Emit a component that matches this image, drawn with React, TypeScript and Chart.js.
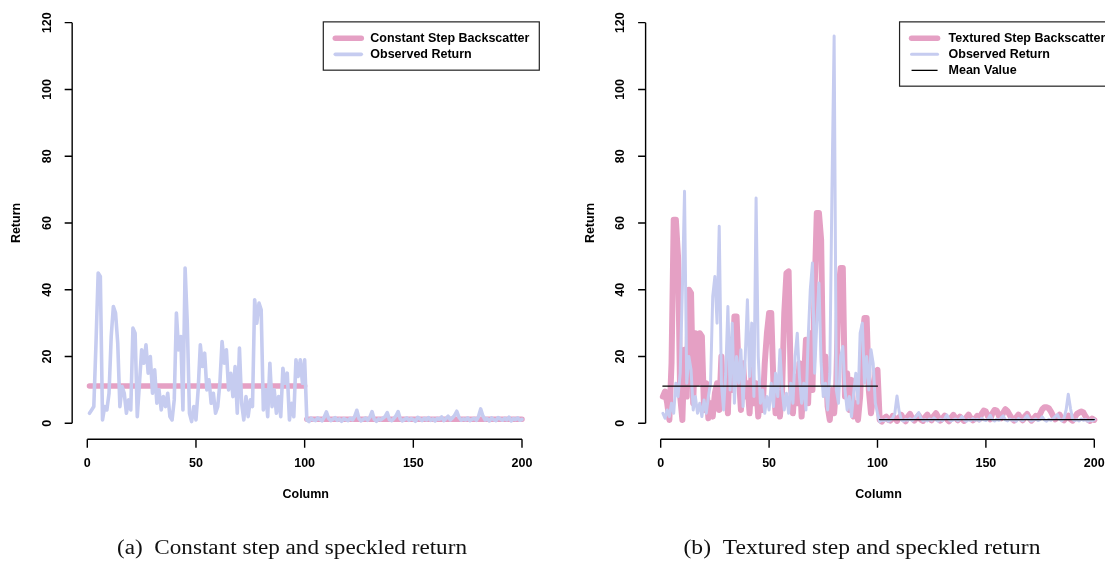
import { useEffect, useRef } from 'react';
import { Chart, registerables } from 'chart.js';

Chart.register(...registerables);

// ---------------- data ----------------
const xTicks = [0, 50, 100, 150, 200];
const yTicks = [0, 20, 40, 60, 80, 100, 120];

// left panel: constant step (two levels) and observed speckled return (columns 1..200)
const constStepStart = [1, 101];
const constStepEnd = [100, 200];
const constStepLevel = [11.15, 1.2];

const leftObserved = [
  3, 4, 5, 24, 45, 44, 1, 5, 4, 9,
  26, 35, 33, 24, 5, 11, 9, 3, 7, 4,
  28.5, 27, 2, 12, 22, 18, 23.5, 15, 20, 9,
  16, 6, 10, 4, 8, 5, 9, 2, 1, 7,
  33, 22, 26, 4, 46.5, 30, 3, 0.5, 5, 1,
  10, 23.5, 17, 21, 10, 13, 6, 9, 3, 5,
  12, 24.5, 18, 22, 10, 15, 8, 17, 3, 22.5,
  6, 1, 8, 2, 7, 5, 37, 30, 36, 34,
  4, 10, 2, 18, 5, 10, 3, 8, 2, 16.5,
  12, 15, 1, 6, 2, 19, 14, 19, 12, 19,
  1, 0.5, 1.5, 1, 0.8, 1.6, 1.2, 0.7, 1.8, 3.4,
  1.5, 0.8, 1.2, 1.7, 0.9, 1.3, 0.6, 1.4, 1.1, 0.8,
  1.5, 1.0, 2.0, 3.9, 1.4, 0.7, 1.2, 1.6, 0.9, 1.8,
  3.5, 1.2, 0.6, 1.3, 1.0, 1.5, 2.0, 3.2, 1.1, 0.8,
  1.4, 2.2, 3.5, 1.3, 0.7, 1.2, 1.6, 0.9, 1.4, 1.1,
  0.6, 1.8, 1.3, 0.8, 1.5, 1.0, 1.7, 0.9, 1.3, 0.7,
  1.5, 1.2, 1.9, 0.8, 1.4, 2.1, 1.0, 1.6, 2.4, 3.6,
  1.8, 0.9, 1.3, 1.0, 1.6, 0.8, 1.2, 1.5, 0.9, 2.0,
  4.3, 2.2, 1.0, 1.4, 0.7, 1.6, 1.1, 0.8, 1.7, 1.3,
  0.9, 1.5, 1.0, 1.8, 0.7, 1.4, 1.1, 1.6, 0.9, 1.2,
];

// right panel: textured step, observed return, mean value
const texturedStep = [
  8, 9.5, 6, 1, 18, 61, 61, 50, 8, 1,
  22, 8, 40, 39, 6, 27, 12, 27, 26, 4,
  12, 1.5, 6, 2, 9, 12, 4, 20, 6, 14,
  3, 25, 10, 32, 32, 15, 4, 18, 8, 12,
  3, 16, 6, 12, 2, 10, 4, 18, 27, 33,
  33, 12, 3, 8, 2, 10, 33, 45, 45.5, 12,
  3, 14, 6, 18, 2, 12, 25, 6, 27, 10,
  40, 63, 63, 55, 12, 20, 5, 1, 10, 3,
  12, 40, 46.5, 46.5, 8, 15, 4, 13, 2, 6,
  1, 8, 25, 31.5, 31.5, 10, 3, 8, 15, 16,
  1, 0.5, 1.5, 2, 1, 0.8, 2.2, 1.5, 0.7, 1.8,
  2.5, 1.2, 0.6, 2, 2.8, 1.5, 0.8, 1.6, 2.4, 1.1,
  0.7, 1.9, 2.6, 1.4, 0.9, 2.2, 3, 1.8, 0.8, 1.5,
  2.3, 1.2, 0.6, 1.7, 2.5, 1.6, 0.9, 2.0, 1.3, 0.7,
  1.8, 2.6, 1.5, 0.9, 1.4, 2.2, 1.2, 2.8, 3.8, 3.5,
  2, 1.2, 3, 4, 3.8, 2.2, 1.5, 3.2, 4.2, 3.6,
  2.5, 1.4, 0.8, 1.8, 2.6, 1.5, 0.9, 2.1, 2.8, 1.6,
  0.8, 1.4, 2.2, 1.5, 2.8, 4.2, 4.8, 4.8, 4.5, 3.5,
  2.2, 1.2, 1.8, 2.6, 1.4, 0.9, 1.7, 2.3, 1.2, 0.8,
  1.8, 2.8, 3.2, 3.5, 3.2, 2, 1.1, 0.7, 1.4, 1.0,
];

const rightObserved = [
  3, 1.5, 4, 2, 6, 3, 12, 8, 15, 40,
  69.5, 12, 20, 16, 4, 8, 3, 6, 2, 7,
  3, 8, 12, 38, 44, 30, 59, 12, 4, 15,
  35, 10, 30, 6, 20, 12, 22, 5, 20, 37,
  14, 30, 8, 67.5, 20, 6, 10, 3, 8, 4,
  12, 5, 15, 8, 22, 10, 4, 9, 3, 12,
  6, 20, 27, 14, 6, 12, 4, 25, 40, 48,
  15, 30, 42, 18, 8, 12, 4, 15, 70, 116,
  10, 6, 20, 23, 10, 4, 8, 2, 9, 15,
  6, 27, 30, 12, 20, 10, 22, 18, 6, 3,
  0.5, 1, 0.8, 1.2, 0.6, 1, 1.5, 3, 8.2, 3.5,
  1, 0.7, 1.2, 0.9, 1.4, 0.8, 1.5, 2.2, 3.2, 1.5,
  0.8, 1.1, 0.7, 1.3, 0.9, 1.6, 1, 0.6, 1.2, 0.8,
  1.4, 2.5, 1.1, 0.7, 1, 1.3, 0.8, 1.2, 2, 1,
  0.6, 1.1, 0.8, 1.4, 0.9, 1.2, 0.7, 1.5, 1, 0.8,
  1.3, 2.4, 1.1, 0.7, 1.2, 0.9, 1.6, 2.2, 1, 0.7,
  1.3, 0.9, 1.1, 0.6, 1.4, 1, 0.8, 1.5, 2.3, 1.2,
  0.7, 1, 1.3, 0.8, 1.1, 1.9, 1, 0.6, 1.2, 0.9,
  1.4, 2, 2.6, 1.2, 0.8, 1.5, 4, 8.7, 4.5, 1.2,
  0.8, 1.1, 0.7, 1.3, 0.9, 1.2, 0.6, 1, 0.8, 1.1,
];

const meanStart = [1, 101];
const meanEnd = [100, 200];
const meanLevel = [11.15, 1.1];

// labels
const leftLegendLabels = ['Constant Step Backscatter', 'Observed Return'];
const rightLegendLabels = ['Textured Step Backscatter', 'Observed Return', 'Mean Value'];
const captions = ['(a)  Constant step and speckled return', '(b)  Textured step and speckled return'];
const xTitle = 'Column';
const yTitle = 'Return';

// ---------------- styling ----------------
const PINK = 'rgb(229,160,196)';
const BLUE = 'rgb(198,204,240)';
const BLACK = '#000000';

const X_MIN = -6.96;
const X_REGION_MAX = 207.96;

const columns = leftObserved.map((_, i) => i + 1);

function seriesPoints(values: number[]) {
  return columns.map((c, i) => ({ x: c, y: values[i] }));
}

function stepPoints(starts: number[], ends: number[], levels: number[]) {
  const pts: { x: number; y: number | null }[] = [];
  starts.forEach((s, i) => {
    pts.push({ x: s, y: levels[i] });
    pts.push({ x: ends[i], y: levels[i] });
    pts.push({ x: ends[i] + 0.5, y: null });
  });
  return pts;
}

const panelPlugin = {
  id: 'rPanel',
  afterDraw(chart: any, _args: any, o: any) {
    const ctx = chart.ctx as CanvasRenderingContext2D;
    const xs = chart.scales.x;
    const ys = chart.scales.y;
    const ca = chart.chartArea;
    ctx.save();
    ctx.strokeStyle = '#000';
    ctx.fillStyle = '#000';
    ctx.lineWidth = 1.4;
    const axX = ca.left;
    const axY = ca.bottom;
    ctx.beginPath();
    ctx.moveTo(axX, ys.getPixelForValue(yTicks[0]));
    ctx.lineTo(axX, ys.getPixelForValue(yTicks[yTicks.length - 1]));
    yTicks.forEach((t) => {
      const p = ys.getPixelForValue(t);
      ctx.moveTo(axX, p);
      ctx.lineTo(axX - 7.5, p);
    });
    ctx.moveTo(xs.getPixelForValue(xTicks[0]), axY);
    ctx.lineTo(xs.getPixelForValue(xTicks[xTicks.length - 1]), axY);
    xTicks.forEach((t) => {
      const p = xs.getPixelForValue(t);
      ctx.moveTo(p, axY);
      ctx.lineTo(p, axY + 8.5);
    });
    ctx.stroke();

    ctx.font = 'bold 12.5px "Liberation Sans", Arial, sans-serif';
    ctx.textAlign = 'center';
    ctx.textBaseline = 'middle';
    yTicks.forEach((t) => {
      ctx.save();
      ctx.translate(axX - 25, ys.getPixelForValue(t));
      ctx.rotate(-Math.PI / 2);
      ctx.fillText(String(t), 0, 0);
      ctx.restore();
    });
    xTicks.forEach((t) => ctx.fillText(String(t), xs.getPixelForValue(t), axY + 24));

    const regionRight = xs.getPixelForValue(X_REGION_MAX);
    ctx.fillText(xTitle, (ca.left + regionRight) / 2, axY + 55);
    ctx.save();
    ctx.translate(axX - 55.5, (ca.top + ca.bottom) / 2);
    ctx.rotate(-Math.PI / 2);
    ctx.fillText(yTitle, 0, 0);
    ctx.restore();

    // legend (R style box, top right of plot region)
    const labels: string[] = o.legendLabels;
    const colors: string[] = o.legendColors;
    const widths: number[] = o.legendWidths;
    const boxRight = regionRight;
    const boxLeft = boxRight - o.legendWidth;
    const boxTop = ys.getPixelForValue(120) - 0.8;
    const boxH = labels.length * 16 + 16.3;
    ctx.fillStyle = '#fff';
    ctx.fillRect(boxLeft, boxTop, boxRight - boxLeft, boxH);
    ctx.strokeStyle = '#222';
    ctx.lineWidth = 1.2;
    ctx.strokeRect(boxLeft, boxTop, boxRight - boxLeft, boxH);
    ctx.textAlign = 'left';
    labels.forEach((lab, i) => {
      const yy = boxTop + 16.5 + i * 16;
      ctx.beginPath();
      ctx.strokeStyle = colors[i];
      ctx.lineWidth = widths[i];
      ctx.lineCap = widths[i] > 2 ? 'round' : 'butt';
      ctx.moveTo(boxLeft + 12, yy);
      ctx.lineTo(boxLeft + 38, yy);
      ctx.stroke();
      ctx.fillStyle = '#000';
      ctx.fillText(lab, boxLeft + o.legendTextOffset, yy);
    });

    // caption
    ctx.font = '20px "Liberation Serif", "DejaVu Serif", serif';
    const w = ctx.measureText(o.caption).width;
    ctx.save();
    ctx.translate(o.captionX, 554);
    ctx.scale(o.captionWidth / w, 1);
    ctx.textAlign = 'center';
    ctx.textBaseline = 'alphabetic';
    ctx.fillStyle = '#111';
    ctx.fillText(o.caption, 0, 0);
    ctx.restore();

    ctx.restore();
  },
};

function lineDs(label: string, data: any[], color: string, width: number, order: number) {
  return {
    label,
    data,
    borderColor: color,
    backgroundColor: color,
    borderWidth: width,
    pointRadius: 0,
    tension: 0,
    order,
    spanGaps: false,
    borderCapStyle: 'round',
    borderJoinStyle: 'round',
  };
}

function makeConfig(datasets: any[], padding: any, xMax: number, panelOpts: any) {
  return {
    type: 'line',
    data: { datasets },
    options: {
      animation: false,
      responsive: false,
      devicePixelRatio: 1,
      parsing: true,
      layout: { padding },
      plugins: {
        legend: { display: false },
        tooltip: { enabled: false },
        rPanel: panelOpts,
      },
      scales: {
        x: { type: 'linear', min: X_MIN, max: xMax, display: false },
        y: { type: 'linear', min: -4.8, max: 124.8, display: false },
      },
    },
    plugins: [panelPlugin],
  };
}

function Panel(props: { left: number; width: number; config: any }) {
  const ref = useRef<HTMLCanvasElement | null>(null);
  useEffect(() => {
    if (!ref.current) return;
    const chart = new Chart(ref.current, props.config);
    return () => chart.destroy();
  }, []);
  return (
    <canvas
      ref={ref}
      width={props.width}
      height={561}
      style={{ position: 'absolute', left: props.left, top: 0, width: props.width, height: 561, display: 'block' }}
    />
  );
}

const leftConfig = makeConfig(
  [
    lineDs('Observed Return', seriesPoints(leftObserved), BLUE, 3.6, 1),
    lineDs('Constant Step Backscatter', stepPoints(constStepStart, constStepEnd, constStepLevel), PINK, 5.5, 2),
  ],
  { left: 72.17, right: 555 - 539.3, top: 6.65, bottom: 561 - 439.3 },
  X_REGION_MAX,
  {
    legendLabels: leftLegendLabels,
    legendColors: [PINK, BLUE],
    legendWidths: [5.5, 3.6],
    legendWidth: 216,
    legendTextOffset: 47,
    caption: captions[0],
    captionX: 292,
    captionWidth: 350,
  }
);

const RIGHT_LEFT = 560;
const RIGHT_W = 545;
const rightXMax = (1105 - 660.7) / 2.168;

const rightConfig = makeConfig(
  [
    lineDs('Mean Value', stepPoints(meanStart, meanEnd, meanLevel), BLACK, 1.3, 0),
    lineDs('Observed Return', seriesPoints(rightObserved), BLUE, 3, 1),
    lineDs('Textured Step Backscatter', seriesPoints(texturedStep), PINK, 6, 2),
  ],
  { left: 645.6 - RIGHT_LEFT, right: 0, top: 6.65, bottom: 561 - 439.3 },
  rightXMax,
  {
    legendLabels: rightLegendLabels,
    legendColors: [PINK, BLUE, BLACK],
    legendWidths: [5.5, 3, 1.3],
    legendWidth: 212,
    legendTextOffset: 49,
    caption: captions[1],
    captionX: 862 - RIGHT_LEFT,
    captionWidth: 357,
  }
);

export default function App() {
  return (
    <div style={{ position: 'fixed', left: 0, top: 0, width: 1105, height: 561, overflow: 'hidden', background: '#fff' }}>
      <Panel left={0} width={555} config={leftConfig} />
      <Panel left={RIGHT_LEFT} width={RIGHT_W} config={rightConfig} />
    </div>
  );
}
